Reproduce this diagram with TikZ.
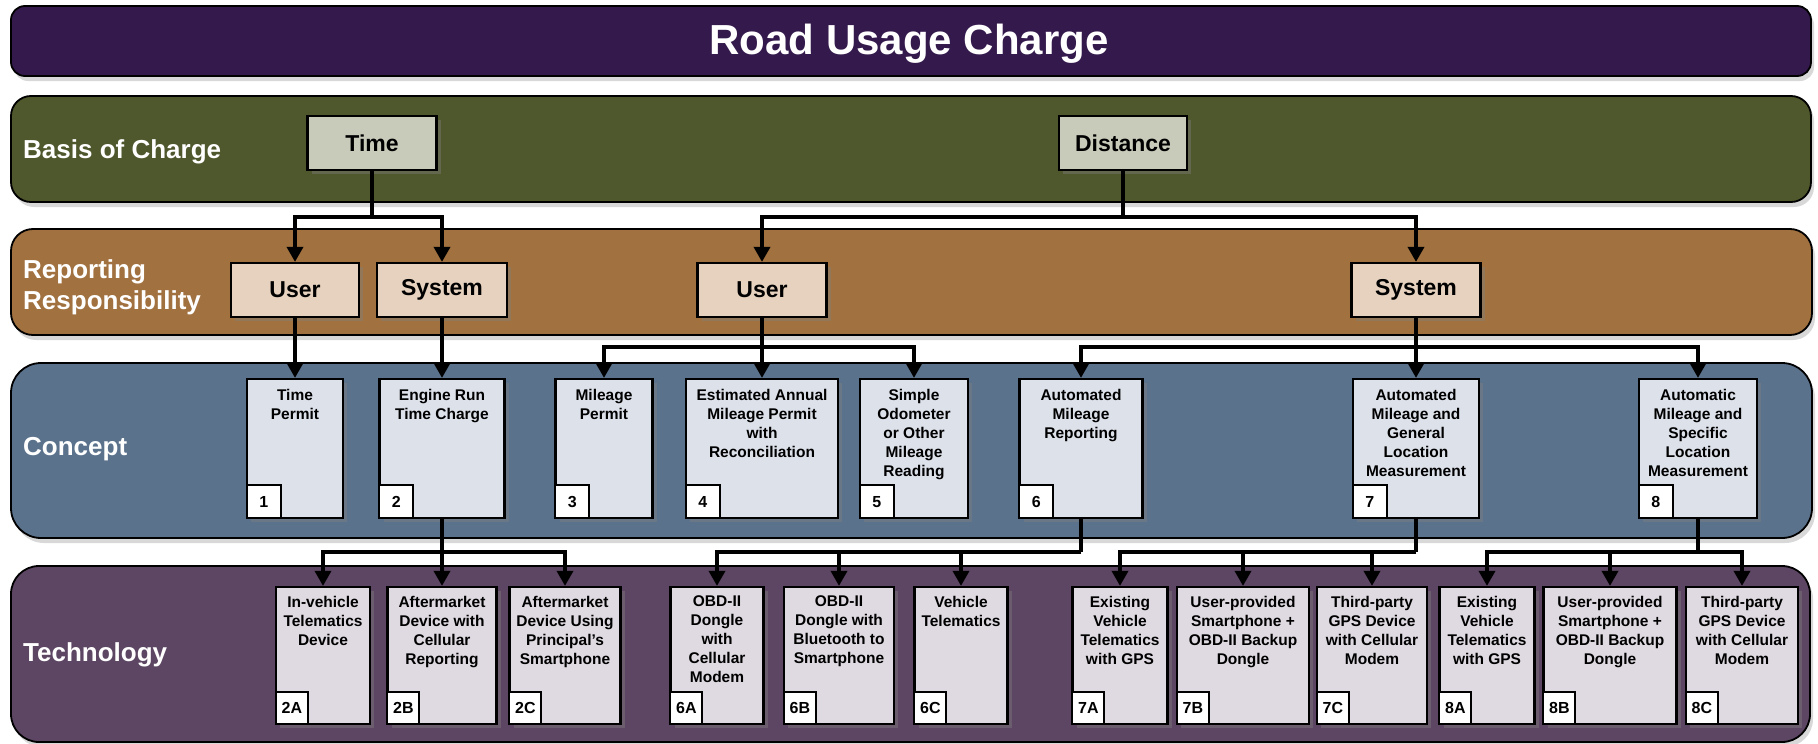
\documentclass[tikz,border=0pt]{standalone}
\usepackage{fontspec}
\setmainfont{Liberation Sans}
\usetikzlibrary{arrows.meta,positioning,shadows}
\definecolor{titleband}{HTML}{341A4C}
\definecolor{basisband}{HTML}{4F572C}
\definecolor{repband}{HTML}{A17140}
\definecolor{conceptband}{HTML}{5B728D}
\definecolor{techband}{HTML}{5D4663}
\definecolor{basisfill}{HTML}{C8CBBA}
\definecolor{repfill}{HTML}{E6D2BE}
\definecolor{conceptfill}{HTML}{DDE1EA}
\definecolor{techfill}{HTML}{DFDAE1}
\tikzset{
  band/.style={draw=black,line width=1.8pt,drop shadow={shadow xshift=3pt,shadow yshift=-5pt,opacity=0.3}},
  bandlabel/.style={anchor=west,align=left,inner sep=0pt,text=white,font=\fontsize{26}{31}\selectfont\bfseries},
  topbox/.style={draw=black,line width=2.2pt,minimum height=54pt,inner sep=0pt,font=\fontsize{23}{27}\selectfont\bfseries,drop shadow={shadow xshift=4pt,shadow yshift=-4pt,opacity=0.4}},
  conbox/.style={topbox,fill=conceptfill,minimum height=139pt},
  techbox/.style={topbox,fill=techfill,minimum height=137pt},
  boxtext/.style={align=center,inner sep=0pt,font=\fontsize{15.5}{19}\selectfont\bfseries},
  tag/.style={draw=black,line width=2pt,fill=white,inner sep=0pt,font=\fontsize{16}{18}\selectfont\bfseries},
  link/.style={line width=3.5pt},
  arr/.style={link,-{Triangle[length=15pt,width=16pt]}},
}
\begin{document}
\begin{tikzpicture}[x=1pt,y=-1pt]
  \fill[white] (0,0) rectangle (1818,744);
  \useasboundingbox (0,0) rectangle (1818,744);
  \draw[band,fill=titleband,rounded corners=14pt] (11,6) rectangle (1811,76);
  \draw[band,fill=basisband,rounded corners=20pt] (11,96) rectangle (1811,202);
  \draw[band,fill=repband,rounded corners=22pt] (11,229) rectangle (1812,335);
  \draw[band,fill=conceptband,rounded corners=30pt] (11,363) rectangle (1812,538);
  \draw[band,fill=techband,rounded corners=28pt] (11,566) rectangle (1810,742);
  \node[text=white,font=\fontsize{42}{48}\selectfont\bfseries] (title) at (909,44) {Road Usage Charge};
  \node[bandlabel] (lblbasis) at (23,152) {Basis of Charge};
  \node[bandlabel] (lblrep) at (23,287) {Reporting\\Responsibility};
  \node[bandlabel] (lblconcept) at (23,449) {Concept};
  \node[bandlabel] (lbltech) at (23,655) {Technology};

  \node[topbox,fill=basisfill,minimum width=129pt] (time) at (372,143) {Time};
  \node[topbox,fill=basisfill,minimum width=128pt] (dist) at (1123,143) {Distance};
  \node[topbox,fill=repfill,minimum width=128pt] (user1) at (295,290) {User};
  \node[topbox,fill=repfill,minimum width=130pt] (sys1) at (442,290) {System};
  \node[topbox,fill=repfill,minimum width=129pt] (user2) at (762,290) {User};
  \node[topbox,fill=repfill,minimum width=129pt] (sys2) at (1416,290) {System};

  \foreach \id/\cx/\w/\txt in {1/295/96/{Time\\Permit}, 2/442/125/{Engine Run\\Time Charge},
      3/604/97/{Mileage\\Permit}, 4/762/152/{Estimated Annual\\Mileage Permit\\with\\Reconciliation},
      5/914/108/{Simple\\Odometer\\or Other\\Mileage\\Reading}, 6/1081/123/{Automated\\Mileage\\Reporting},
      7/1416/126/{Automated\\Mileage and\\General\\Location\\Measurement},
      8/1698/118/{Automatic\\Mileage and\\Specific\\Location\\Measurement}} {
    \node[conbox,minimum width=\w pt] (c\id) at (\cx,448.5) {};
    \node[boxtext,below=11pt of c\id.north] (ct\id) {\txt};
    \node[tag,minimum width=34pt,minimum height=33pt,anchor=south west] (cn\id) at (c\id.south west) {\id};
  }

  \foreach \id/\cx/\w/\txt in {2A/323/94/{In-vehicle\\Telematics\\Device}, 2B/442/109/{Aftermarket\\Device with\\Cellular\\Reporting},
      2C/565/111/{Aftermarket\\Device Using\\Principal’s\\Smartphone}, 6A/717/93/{OBD-II\\Dongle\\with\\Cellular\\Modem},
      6B/839/110/{OBD-II\\Dongle with\\Bluetooth to\\Smartphone}, 6C/961/93/{Vehicle\\Telematics},
      7A/1120/95/{Existing\\Vehicle\\Telematics\\with GPS}, 7B/1243/132/{User-provided\\Smartphone +\\OBD-II Backup\\Dongle},
      7C/1372/110/{Third-party\\GPS Device\\with Cellular\\Modem}, 8A/1487/95/{Existing\\Vehicle\\Telematics\\with GPS},
      8B/1610/133/{User-provided\\Smartphone +\\OBD-II Backup\\Dongle}, 8C/1742/112/{Third-party\\GPS Device\\with Cellular\\Modem}} {
    \node[techbox,minimum width=\w pt] (t\id) at (\cx,655.5) {};
    \node[boxtext,below=10pt of t\id.north] (tt\id) {\txt};
    \node[tag,minimum width=32pt,minimum height=32pt,anchor=south west] (tn\id) at (t\id.south west) {\id};
  }

  \coordinate (jtime) at (time.south |- 0,217);
  \draw[link] (time) -- (jtime);
  \draw[arr] (jtime) -| (user1);
  \draw[arr] (jtime) -| (sys1);
  \coordinate (jdist) at (dist.south |- 0,217);
  \draw[link] (dist) -- (jdist);
  \draw[arr] (jdist) -| (user2);
  \draw[arr] (jdist) -| (sys2);

  \draw[arr] (user1) -- (c1);
  \draw[arr] (sys1) -- (c2);
  \coordinate (juser) at (user2.south |- 0,347);
  \draw[arr] (user2) -- (c4);
  \draw[arr] (juser) -| (c3);
  \draw[arr] (juser) -| (c5);
  \coordinate (jsys) at (sys2.south |- 0,347);
  \draw[arr] (sys2) -- (c7);
  \draw[arr] (jsys) -| (c6);
  \draw[arr] (jsys) -| (c8);

  \foreach \c/\a/\b/\d in {2/2A/2B/2C, 6/6A/6B/6C, 7/7A/7B/7C, 8/8A/8B/8C} {
    \coordinate (j\c) at (c\c.south |- 0,552);
    \draw[link] (c\c) -- (j\c);
    \foreach \t in {\a,\b,\d} \draw[arr] (j\c) -| (t\t);
  }
\end{tikzpicture}
\end{document}
